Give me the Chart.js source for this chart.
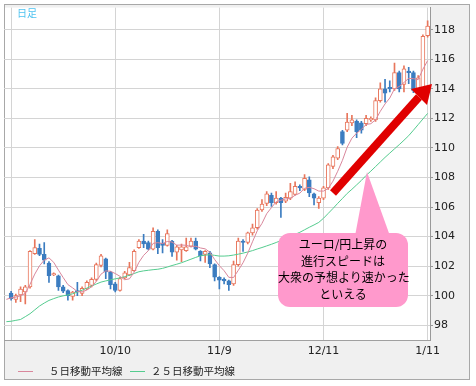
<!DOCTYPE html>
<html>
<head>
<meta charset="utf-8">
<script src="https://cdn.jsdelivr.net/npm/chart.js@4.4.1/dist/chart.umd.min.js"></script>
<style>
html, body { margin:0; padding:0; background:#fff; }
#wrap { position:relative; width:476px; height:386px; }
#wrap canvas, #wrap svg { position:absolute; left:0; top:0; }
.txt { position:absolute; font-family:"Noto Sans CJK JP", sans-serif; white-space:nowrap; }
#ashi { left:17px; top:5px; font-size:10px; color:#4fc3f0; }
#note { left:278px; top:236px; width:130px; text-align:center; font-size:12px; line-height:16.5px; color:#000; }
.lg { top:363px; font-size:10.5px; color:#222; }
.lgline { position:absolute; top:371px; width:15px; height:1px; }
</style>
</head>
<body>
<div id="wrap">
  <canvas id="chart" width="476" height="386"></canvas>
  <svg width="476" height="386">
    <path d="M367 172 L355 236 L390 236 Z" fill="#ff99cc"/>
    <rect x="278" y="233" width="130" height="74" rx="12" fill="#ff99cc"/>
    <line x1="333" y1="193" x2="419" y2="97" stroke="#e00000" stroke-width="8"/>
    <polygon points="432,84 411,89 427,105" fill="#e00000"/>
  </svg>
  <div class="txt" id="ashi">日足</div>
  <div class="txt" id="note">ユーロ/円上昇の<br>進行スピードは<br>大衆の予想より速かった<br>といえる</div>
  <div class="lgline" style="left:18px;background:#d9879c"></div>
  <div class="txt lg" style="left:49px">５日移動平均線</div>
  <div class="lgline" style="left:130px;background:#55cc8f"></div>
  <div class="txt lg" style="left:151px">２５日移動平均線</div>
</div>
<script>
// Daily EUR/JPY, 2012/9/7 - 2013/1/11
const dates = [
  '9/7','9/10','9/11','9/12','9/13','9/14','9/17','9/18','9/19','9/20',
  '9/21','9/24','9/25','9/26','9/27','9/28','10/1','10/2','10/3','10/4',
  '10/5','10/8','10/9','10/10','10/11','10/12','10/15','10/16','10/17','10/18',
  '10/19','10/22','10/23','10/24','10/25','10/26','10/29','10/30','10/31','11/1',
  '11/2','11/5','11/6','11/7','11/8','11/9','11/12','11/13','11/14','11/15',
  '11/16','11/19','11/20','11/21','11/22','11/23','11/26','11/27','11/28','11/29',
  '11/30','12/3','12/4','12/5','12/6','12/7','12/10','12/11','12/12','12/13',
  '12/14','12/17','12/18','12/19','12/20','12/21','12/24','12/25','12/26','12/27',
  '12/28','12/31','1/2','1/3','1/4','1/7','1/8','1/9','1/10','1/11'
];
const tickDates = ['10/10','11/9','12/11','1/11'];
const gridDates = ['9/10','10/10','11/9','12/11','1/11'];
const yTicks = [98,100,102,104,106,108,110,112,114,116,118];

const opens = [
  null,100.17,99.75,100.05,100.25,100.6,102.85,103.2,102.8,102.2,
  101.4,101.35,100.6,100.35,99.95,100.35,100.15,100.45,100.7,101.1,
  102.05,102.5,101.6,100.8,100.35,101.2,101.4,101.7,103.25,103.7,
  103.6,103.15,104.35,103.55,103.4,103.7,102.95,103.1,103.05,103.35,
  103.7,103.0,102.8,102.9,102.1,101.25,101.1,101.0,100.8,102.1,
  103.7,103.6,104.25,104.6,105.8,106.25,106.8,106.3,106.6,106.4,
  106.6,106.85,107.4,107.2,107.85,106.9,106.3,106.6,107.3,108.75,
  109.3,111.1,111.2,111.7,111.8,111.7,111.65,111.9,111.9,113.2,
  114.0,114.1,114.0,115.1,114.3,115.2,115.1,113.8,114.0,117.6
];
const highs = [
  null,100.3,100.1,100.6,100.7,103.05,103.8,103.5,103.6,102.3,
  101.55,101.4,100.7,100.4,100.3,100.9,100.6,101.0,101.2,102.2,
  102.8,102.55,101.65,100.9,101.25,101.65,102.25,103.1,103.8,104.15,
  103.7,104.6,104.45,103.8,104.45,103.75,103.4,103.5,103.9,103.9,
  103.9,103.05,103.05,103.0,102.15,101.3,101.2,101.05,102.35,103.9,
  103.8,104.3,104.85,105.9,106.5,107.05,106.95,107.05,106.65,106.95,
  107.6,107.7,107.5,108.2,108.05,106.95,106.7,107.4,108.95,109.5,
  110.1,111.2,112.35,112.2,111.9,111.8,112.2,112.1,113.4,114.4,
  114.65,114.55,115.75,115.2,115.55,115.45,115.2,114.9,117.65,118.6
];
const lows = [
  null,99.7,99.55,99.6,99.45,100.5,102.8,102.7,102.15,100.9,
  101.35,100.35,100.2,99.7,99.7,100.0,100.0,100.4,100.6,101.0,
  101.95,101.15,100.45,100.25,100.3,101.15,101.35,101.65,103.2,103.25,
  103.1,103.1,102.85,102.9,103.35,102.65,102.4,102.3,103.0,103.3,
  103.1,102.35,102.25,101.9,101.0,100.45,100.8,100.35,100.7,102.0,
  103.0,103.5,104.1,104.5,105.7,106.1,106.05,106.2,105.3,106.3,
  106.5,106.8,107.1,107.1,106.7,106.15,105.9,106.5,107.2,108.6,
  109.2,110.2,111.1,111.5,110.7,111.0,111.5,111.8,111.8,113.1,
  113.1,113.8,113.9,113.8,113.8,114.35,113.75,113.7,113.8,117.5
];
const closes = [
  null,99.8,100.0,100.45,100.6,103.0,103.25,102.8,102.4,101.35,
  101.5,100.6,100.3,100.0,100.25,100.25,100.5,100.9,101.1,102.1,
  102.7,101.6,100.75,100.35,101.15,101.55,101.9,103.0,103.7,103.5,
  103.15,104.35,103.25,103.4,104.2,102.95,103.3,103.3,103.3,103.7,
  103.15,102.7,103.0,102.15,101.25,101.05,101.0,100.75,102.1,103.7,
  103.6,104.25,104.6,105.8,106.2,106.9,106.3,106.6,106.3,106.65,
  107.05,107.4,107.3,107.95,106.95,106.6,106.6,107.3,108.85,109.4,
  109.95,110.3,111.75,111.9,111.1,111.2,112.0,112.0,113.2,114.0,
  113.7,114.0,115.1,114.0,115.35,115.1,113.9,114.75,117.55,118.25
];
// moving averages
const ma5 = [
  99.75,99.85,99.9,100.0,100.15,100.77,101.46,102.02,102.41,102.56,
  102.26,101.73,101.23,100.75,100.53,100.28,100.26,100.38,100.6,100.97,
  101.46,101.68,101.65,101.5,101.31,101.08,101.14,101.59,102.26,102.73,
  103.05,103.54,103.59,103.53,103.67,103.63,103.42,103.43,103.41,103.31,
  103.35,103.23,103.17,102.94,102.45,102.03,101.69,101.24,101.23,101.72,
  102.23,102.88,103.65,104.39,104.89,105.55,105.96,106.36,106.46,106.55,
  106.58,106.8,106.94,107.27,107.33,107.24,107.08,107.08,107.26,107.75,
  108.42,109.16,110.05,110.66,111.0,111.25,111.59,111.64,111.9,112.48,
  112.98,113.38,114.0,114.16,114.43,114.71,114.69,114.62,115.33,115.91
];
const ma25 = [
  98.24,98.27,98.33,98.39,98.58,98.78,99.04,99.3,99.5,99.68,
  99.8,99.91,99.99,100.05,100.13,100.24,100.37,100.51,100.66,100.79,
  100.92,101.0,101.07,101.14,101.2,101.29,101.38,101.5,101.62,101.68,
  101.72,101.76,101.79,101.85,101.94,102.04,102.13,102.23,102.35,102.47,
  102.59,102.7,102.74,102.78,102.73,102.68,102.68,102.7,102.75,102.81,
  102.88,102.96,103.05,103.16,103.26,103.37,103.48,103.6,103.73,103.87,
  104.01,104.15,104.29,104.46,104.63,104.79,104.96,105.24,105.57,105.9,
  106.25,106.58,106.92,107.2,107.5,107.8,108.14,108.43,108.74,109.05,
  109.36,109.65,109.94,110.22,110.52,110.83,111.2,111.58,111.96,112.34
];

const UP = '#e8765c', DOWN = '#3b7cc0';
const isUp = dates.map((d, i) => closes[i] >= opens[i]);
const lineCol = dates.map((d, i) => isUp[i] ? UP : DOWN);

const framePlugin = {
  id: 'frame',
  beforeDraw(chart) {
    const { ctx, chartArea: a } = chart;
    ctx.save();
    ctx.fillStyle = '#f0f0f0';
    ctx.fillRect(4, 4, 466, 376);
    ctx.strokeStyle = '#a8a8a8';
    ctx.lineWidth = 1;
    ctx.strokeRect(4.5, 4.5, 465, 375);
    ctx.fillStyle = '#fff';
    ctx.fillRect(a.left + 1, a.top, a.right - a.left - 1, a.bottom - a.top);
    ctx.restore();
  }
};

new Chart(document.getElementById('chart'), {
  type: 'bar',
  data: {
    labels: dates,
    datasets: [
      { type: 'line', label: '5日移動平均線', data: ma5, borderColor: '#d9879c', borderWidth: 1,
        pointRadius: 0, tension: 0, order: 0 },
      { type: 'line', label: '25日移動平均線', data: ma25, borderColor: '#55cc8f', borderWidth: 1,
        pointRadius: 0, tension: 0, order: 0 },
      { label: 'body', data: dates.map((d, i) => opens[i] == null ? null : [opens[i], closes[i]]),
        backgroundColor: dates.map((d, i) => isUp[i] ? '#fff' : DOWN),
        borderColor: lineCol, borderWidth: 1, borderSkipped: false,
        barThickness: 4, minBarLength: 1, grouped: false, order: 1 },
      { label: 'wick', data: dates.map((d, i) => lows[i] == null ? null : [lows[i], highs[i]]),
        backgroundColor: lineCol, borderWidth: 0,
        barThickness: 1, grouped: false, order: 2 }
    ]
  },
  options: {
    responsive: false,
    animation: false,
    devicePixelRatio: 1,
    layout: { padding: { left: 4, right: 6, top: 5, bottom: 26 } },
    plugins: { legend: { display: false }, tooltip: { enabled: false } },
    scales: {
      x: {
        offset: true,
        grid: {
          offset: false, drawTicks: false, lineWidth: 1,
          color: c => gridDates.includes(dates[c.index]) ? '#d4d4d4' : 'rgba(0,0,0,0)'
        },
        border: { display: true, color: '#a0a0a0' },
        ticks: {
          autoSkip: false, maxRotation: 0, padding: 5,
          color: '#222', font: { family: 'DejaVu Sans', size: 11 },
          callback: (v, i) => tickDates.includes(dates[i]) ? dates[i] : ''
        },
        afterFit: s => { s.height = 20; }
      },
      y: {
        position: 'right',
        min: 97, max: 119.5,
        afterBuildTicks: s => { s.ticks = yTicks.map(v => ({ value: v })); },
        grid: { color: '#d4d4d4', lineWidth: 1, tickLength: 3, tickColor: '#999' },
        border: { display: true, color: '#999' },
        ticks: { padding: 1, color: '#222', font: { family: 'DejaVu Sans', size: 11 } },
        afterFit: s => { s.width = 40; }
      }
    }
  },
  plugins: [framePlugin]
});
</script>
</body>
</html>
